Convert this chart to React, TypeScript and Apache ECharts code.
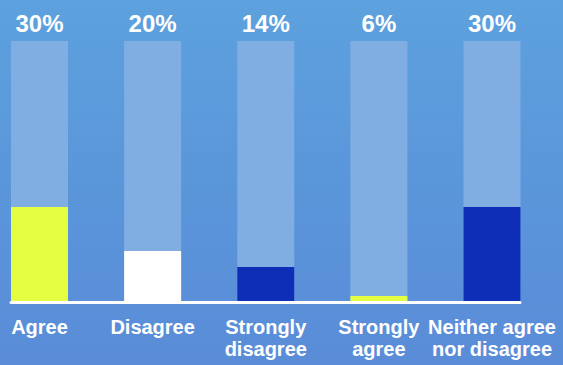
import React, { useEffect, useRef } from "react";
import * as echarts from "echarts";

const categories = ["Agree", "Disagree", "Strongly\ndisagree", "Strongly\nagree", "Neither agree\nnor disagree"];
const percentLabels = ["30%", "20%", "14%", "6%", "30%"];
// bar heights as drawn in the picture (percent of the full background bar)
const barLevels = [36.2, 19.2, 13.1, 1.9, 36.2];
const fullLevels = [100, 100, 100, 100, 100];
const barColors = ["#E4FF42", "#FFFFFF", "#0F2EB8", "#E4FF42", "#0F2EB8"];

export default function App() {
  const ref = useRef<HTMLDivElement>(null);
  useEffect(() => {
    if (!ref.current) return;
    const chart = echarts.init(ref.current, undefined, { renderer: "svg" });
    const font = "'Liberation Sans', Arial, Helvetica, sans-serif";
    chart.setOption({
      animation: false,
      backgroundColor: "transparent",
      grid: [
        { left: -17.06, right: 14.44, top: 41, bottom: 64, outerBoundsMode: "none", containLabel: false },
        { left: 11, right: 43, top: 41, bottom: 62.5, outerBoundsMode: "none", containLabel: false },
      ],
      xAxis: [
        {
          type: "category",
          gridIndex: 0,
          data: categories,
          axisLine: { show: false },
          axisTick: { show: false },
          axisLabel: {
            interval: 0,
            margin: 15,
            color: "#FFFFFF",
            fontFamily: font,
            fontWeight: "bold",
            fontSize: 20,
            lineHeight: 22,
          },
        },
        {
          type: "value",
          gridIndex: 1,
          min: 0,
          max: 1,
          axisLine: { show: true, lineStyle: { color: "#FFFFFF", width: 3 } },
          axisTick: { show: false },
          axisLabel: { show: false },
          splitLine: { show: false },
        },
      ],
      yAxis: [
        { type: "value", gridIndex: 0, min: 0, max: 100, show: false },
        { type: "value", gridIndex: 1, min: 0, max: 1, show: false },
      ],
      series: [
        {
          type: "bar",
          xAxisIndex: 0,
          yAxisIndex: 0,
          data: fullLevels,
          barWidth: 57,
          itemStyle: { color: "#80AEE3" },
          label: {
            show: true,
            position: "top",
            distance: 6,
            formatter: (p: any) => percentLabels[p.dataIndex],
            color: "#FFFFFF",
            fontFamily: font,
            fontWeight: "bold",
            fontSize: 24,
          },
          z: 1,
        },
        {
          type: "bar",
          xAxisIndex: 0,
          yAxisIndex: 0,
          data: barLevels,
          barWidth: 57,
          barGap: "-100%",
          itemStyle: { color: (p: any) => barColors[p.dataIndex] },
          z: 2,
        },
      ],
    });
    return () => chart.dispose();
  }, []);
  return (
    <div
      style={{
        position: "absolute",
        left: 0,
        top: 0,
        width: 563,
        height: 365,
        background: "linear-gradient(180deg, #5DA1DE 0%, #5A95DA 55%, #5A8CD8 100%)",
      }}
    >
      <div ref={ref} style={{ width: 563, height: 365 }} />
    </div>
  );
}
